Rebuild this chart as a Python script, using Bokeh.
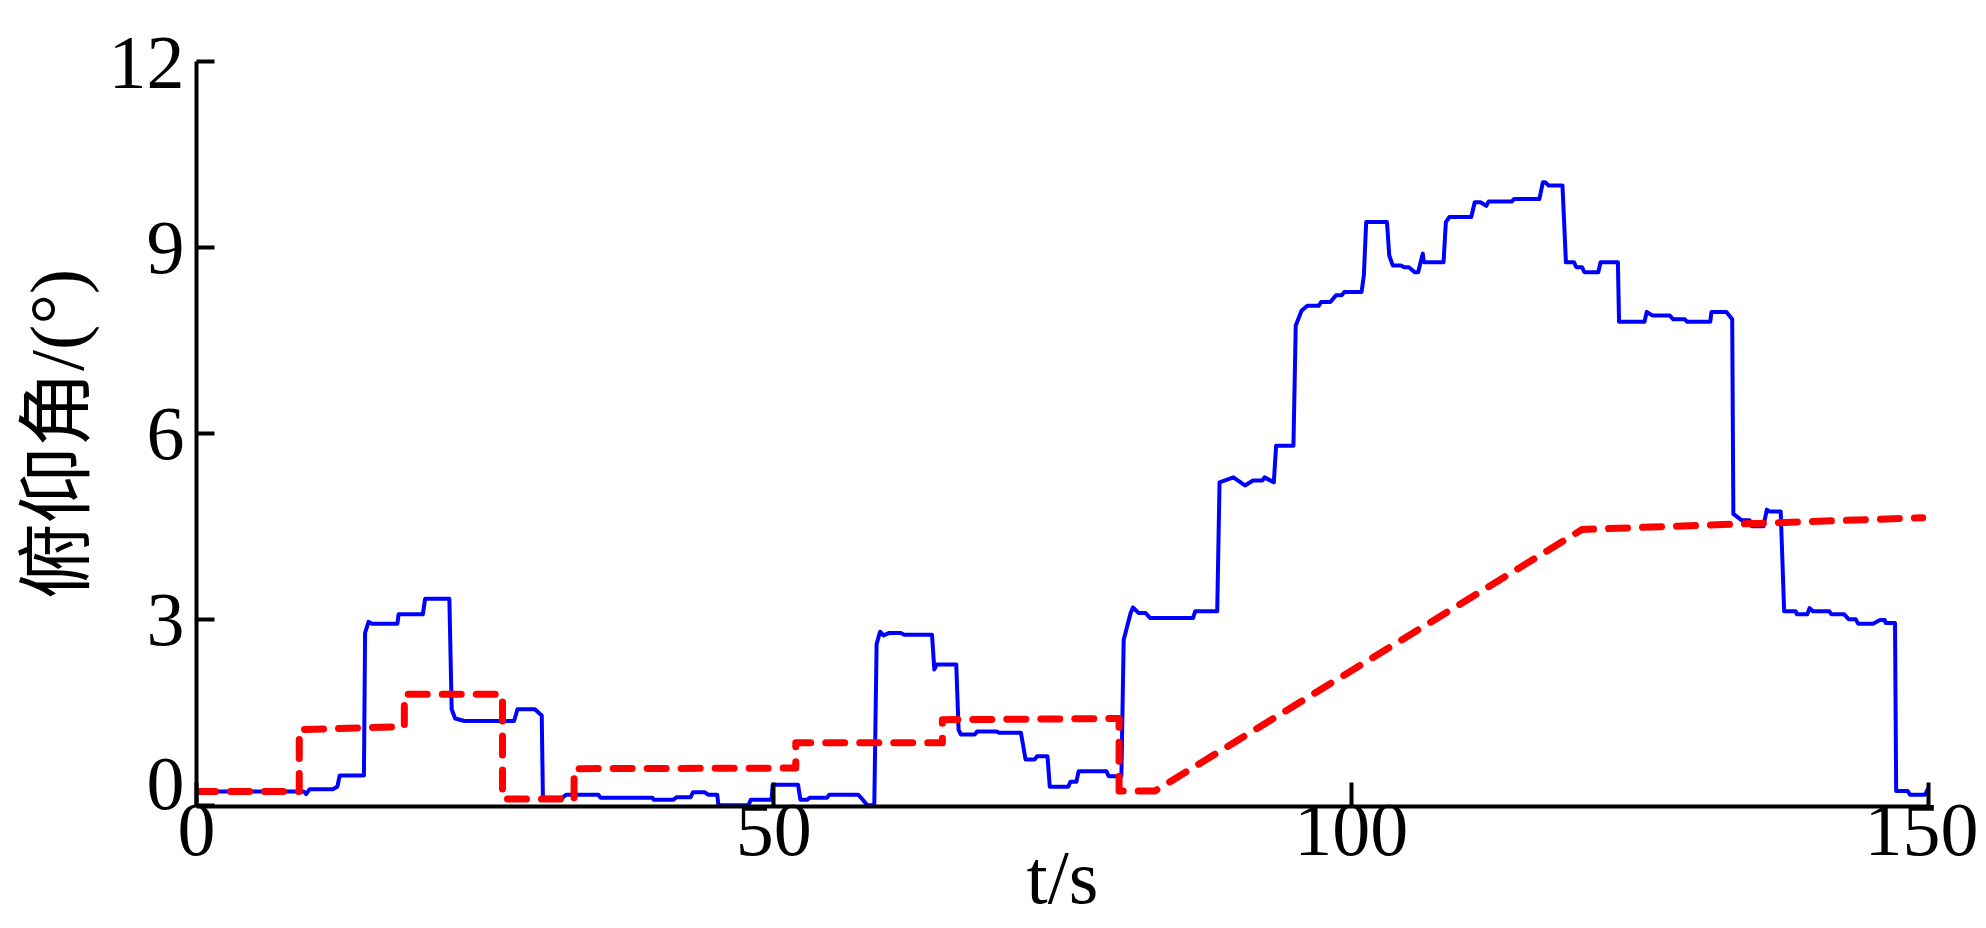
from bokeh.plotting import figure
from bokeh.models import Range1d, FixedTicker
from bokeh.embed import file_html
from bokeh.resources import INLINE

# ---- data ----
BLUE_T = [
    0, 9.3, 9.5, 9.8, 11.8, 12.2, 12.4, 14.5,
    14.6, 14.9, 15.2, 17.4, 17.5, 19.6, 19.8, 21.9,
    22.1, 22.4, 23.2, 27.5, 27.8, 29.3, 29.9, 30.0,
    31.7, 32.0, 34.8, 35.0, 39.5, 39.6, 41.3, 41.6,
    42.8, 43.0, 44.0, 44.3, 45.1, 45.2, 47.8, 48.0,
    49.8, 49.9, 52.1, 52.3, 52.9, 53.1, 54.6, 54.8,
    57.3, 57.7, 58.1, 58.7,
    58.9, 59.2, 59.5, 60.0, 61.0, 61.3, 63.7, 63.9,
    64.1, 65.8, 66.0, 66.2, 67.4, 67.6, 69.3, 69.5,
    71.4, 71.8, 72.6, 72.8, 73.7, 73.9, 75.5, 75.7,
    76.2, 76.4, 78.8, 79.0, 80.1,
    80.3, 80.9, 81.1, 81.6, 82.2, 82.6, 86.3, 86.5, 88.4,
    88.6, 89.8, 90.8, 91.5, 92.3, 92.5, 93.3, 93.5,
    95.0, 95.2, 95.7, 96.2, 97.2, 97.4, 98.2, 98.7,
    99.2, 99.4, 100.9, 101.1, 101.3, 103.1, 103.3, 103.6,
    104.3, 104.6, 105.0, 105.5, 105.8, 106.2, 106.3, 108.0,
    108.2, 108.5, 110.4, 110.7, 111.2, 111.7, 111.9, 113.9,
    114.1, 116.3, 116.6, 116.8, 117.1, 118.3, 118.6, 119.3,
    119.5, 120.0, 120.2, 121.4, 121.6, 123.1, 123.2, 125.4,
    125.6, 126.1, 127.6, 127.9, 128.9, 129.1, 131.1, 131.2,
    132.5, 133.0, 133.1, 133.8, 134.5, 134.7, 135.7, 136.0,
    136.2, 137.2, 137.5, 138.5, 138.6, 139.5, 139.7, 140.0,
    141.4, 141.6, 142.7, 143.1, 143.7, 143.9, 145.2, 145.8,
    146.2, 146.3, 147.1, 147.2, 148.2, 148.4, 149.7, 150.0,
]
BLUE_V = [
    0.22, 0.22, 0.18, 0.26, 0.26, 0.30, 0.48, 0.48,
    2.78, 2.96, 2.93, 2.93, 3.08, 3.08, 3.33, 3.33,
    1.55, 1.40, 1.36, 1.36, 1.55, 1.55, 1.45, 0.12,
    0.12, 0.17, 0.17, 0.12, 0.12, 0.09, 0.09, 0.13,
    0.13, 0.21, 0.21, 0.17, 0.17, 0.00, 0.00, 0.09,
    0.09, 0.33, 0.33, 0.09, 0.09, 0.12, 0.12, 0.17,
    0.17, 0.09, 0.00, 0.00,
    2.60, 2.80, 2.74, 2.78, 2.78, 2.75, 2.75, 2.19,
    2.27, 2.27, 1.22, 1.14, 1.14, 1.19, 1.19, 1.17,
    1.17, 0.74, 0.74, 0.79, 0.79, 0.30, 0.30, 0.38,
    0.38, 0.55, 0.55, 0.47, 0.47,
    2.67, 3.10, 3.19, 3.10, 3.10, 3.02, 3.02, 3.13, 3.13,
    5.21, 5.29, 5.16, 5.24, 5.24, 5.29, 5.21, 5.80,
    5.80, 7.74, 7.98, 8.06, 8.06, 8.12, 8.12, 8.23,
    8.23, 8.28, 8.28, 8.55, 9.41, 9.41, 8.87, 8.71,
    8.71, 8.68, 8.68, 8.60, 8.60, 8.90, 8.76, 8.76,
    9.41, 9.49, 9.49, 9.73, 9.73, 9.67, 9.74, 9.74,
    9.78, 9.78, 10.05, 10.05, 10.00, 10.00, 8.76, 8.76,
    8.68, 8.68, 8.60, 8.60, 8.76, 8.76, 7.80, 7.80,
    7.96, 7.90, 7.90, 7.84, 7.84, 7.80, 7.80, 7.96,
    7.96, 7.84, 4.70, 4.60, 4.60, 4.50, 4.50, 4.77,
    4.74, 4.74, 3.13, 3.13, 3.08, 3.08, 3.18, 3.13,
    3.13, 3.08, 3.08, 3.00, 3.00, 2.93, 2.93, 2.99,
    2.99, 2.94, 2.94, 0.23, 0.23, 0.17, 0.17, 0.28,
]
RED_T = [0, 8.9, 8.9, 18.0, 18.0, 26.5, 26.5, 32.7, 32.7, 51.9, 51.9,
         64.6, 64.6, 79.9, 79.9, 83.0, 120.0, 149.5]
RED_V = [0.22, 0.22, 1.22, 1.27, 1.79, 1.79, 0.10, 0.10, 0.59, 0.60, 1.01,
         1.01, 1.38, 1.40, 0.23, 0.23, 4.45, 4.64]

X_TICKS = [0, 50, 100, 150]
Y_TICKS = [0, 3, 6, 9, 12]
X_LABEL = "t/s"
Y_LABEL = "俯仰角/(°)"

SERIF = "'Liberation Serif', 'Times New Roman', serif"
SERIF_CJK = "'Liberation Serif', 'Noto Sans CJK SC', serif"
FS = "76px"

p = figure(
    frame_width=1732, frame_height=745,
    x_range=Range1d(X_TICKS[0], X_TICKS[-1]),
    y_range=Range1d(-0.02, Y_TICKS[-1]),
    output_backend="svg", toolbar_location=None,
    min_border_left=196, min_border_right=50,
    min_border_top=61, min_border_bottom=114,
)
p.outline_line_color = None
p.grid.visible = False
p.background_fill_color = "white"
p.border_fill_color = "white"

p.line(BLUE_T, BLUE_V, line_color="#0000FF", line_width=4, line_join="round")
p.line(RED_T, RED_V, line_color="#FF0000", line_width=7, line_dash="19 15",
       line_cap="round", line_join="round")

for ax in (p.xaxis[0], p.yaxis[0]):
    ax.axis_line_width = 4
    ax.axis_line_color = "black"
    ax.major_tick_line_width = 4
    ax.major_tick_line_color = "black"
    ax.major_tick_out = 0
    ax.minor_tick_in = 0
    ax.minor_tick_out = 0
    ax.major_label_text_font = SERIF
    ax.major_label_text_font_size = FS
    ax.major_label_text_color = "black"
    ax.axis_label_text_font_size = FS
    ax.axis_label_text_font_style = "normal"
    ax.axis_label_text_color = "black"

xa = p.xaxis[0]
xa.ticker = FixedTicker(ticks=X_TICKS, minor_ticks=[])
xa.major_tick_in = 24
xa.major_label_standoff = -2
xa.axis_label = X_LABEL
xa.axis_label_text_font = SERIF
xa.axis_label_standoff = -23

ya = p.yaxis[0]
ya.ticker = FixedTicker(ticks=Y_TICKS, minor_ticks=[])
ya.major_tick_in = 18
ya.major_label_standoff = 12
# the y "0" sits a little above the corner in the reference: a trailing empty
# line lifts it by half a line
ya.major_label_overrides = {0: "0\n "}
ya.major_label_text_line_height = 0.52
ya.axis_label = Y_LABEL
ya.axis_label_text_font = SERIF_CJK
ya.axis_label_standoff = 7

open("out.html", "w").write(file_html(p, INLINE))
